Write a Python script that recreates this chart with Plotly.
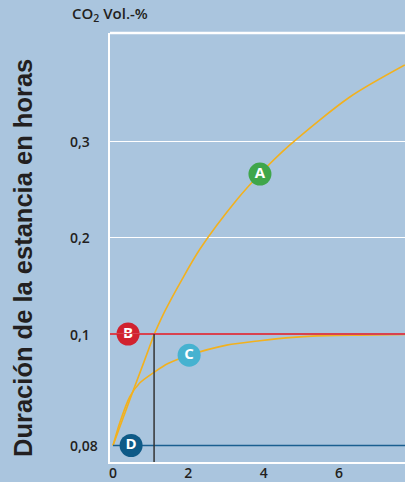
import plotly.graph_objects as go

# ---- datos ----
# curva A (sube hasta ~0,38)
a_x = [0, 0.265, 0.544, 0.822, 1.095, 1.379, 1.822, 2.308, 3.281, 3.899, 4.695, 6.286, 7.745]
a_y = [0.08, 0.0849, 0.0900, 0.0950, 0.1, 0.1239, 0.1560, 0.1882, 0.2391, 0.2661, 0.2962, 0.3460, 0.3792]

# curva C (se acerca a 0,1)
c_x = [0, 0.186, 0.443, 0.708, 1.106, 1.459, 2.024, 3.016, 3.899, 4.775, 5.668, 6.552, 7.745]
c_y = [0.08, 0.0842, 0.0887, 0.0912, 0.0932, 0.0947, 0.0962, 0.0980, 0.0988, 0.0994, 0.0997, 0.0998, 0.0999]

nivel_b = 0.1      # línea roja
nivel_d = 0.08     # línea azul
x_corte = 1.09     # línea vertical

marcas = ["A", "B", "C", "D"]
marcas_x = [3.90, 0.40, 2.02, 0.48]
marcas_y = [0.266, 0.1, 0.0962, 0.08]
marcas_col = ["#3FA64A", "#D1222F", "#46B2D0", "#0E5A87"]

x_ticks = [0, 2, 4, 6]
x_ticktext = ["0", "2", "4", "6"]
y_ticks = [0.08, 0.1, 0.2, 0.3]
y_ticktext = ["0,08", "0,1", "0,2", "0,3"]

X_MIN, X_MAX = -0.08, 7.75
BG = "#AAC5DE"
NARANJA = "#F2B11E"
TXT = "#231F20"
FUENTE = "Open Sans"

# el eje Y está partido: tramo bajo 0,08-0,1 y tramo alto 0,1-0,41
def eje(v):
    return "y" if v <= 0.1 else "y2"

fig = go.Figure()

# curva A, repartida entre los dos tramos
a_lo = [(x, y) for x, y in zip(a_x, a_y) if y <= 0.1]
a_hi = [(x, y) for x, y in zip(a_x, a_y) if y >= 0.1]
for pts, ya in ((a_lo, "y"), (a_hi, "y2")):
    fig.add_trace(go.Scatter(
        x=[p[0] for p in pts], y=[p[1] for p in pts], yaxis=ya,
        mode="lines", line=dict(color=NARANJA, width=1.6, shape="spline", smoothing=0.8),
        hoverinfo="skip", showlegend=False))

fig.add_trace(go.Scatter(
    x=c_x, y=c_y, yaxis="y", mode="lines",
    line=dict(color=NARANJA, width=1.6, shape="spline", smoothing=0.8),
    hoverinfo="skip", showlegend=False))

# línea roja (dibujada en ambos tramos para que no quede recortada)
for ya in ("y", "y2"):
    fig.add_trace(go.Scatter(
        x=[X_MIN, X_MAX], y=[nivel_b, nivel_b], yaxis=ya, mode="lines",
        line=dict(color="#D8424F", width=2), hoverinfo="skip", showlegend=False))

# línea azul
fig.add_trace(go.Scatter(
    x=[0, X_MAX], y=[nivel_d, nivel_d], yaxis="y", mode="lines",
    line=dict(color="#1A5F90", width=1.6), hoverinfo="skip", showlegend=False))

# línea vertical
fig.add_trace(go.Scatter(
    x=[x_corte, x_corte], y=[0.07, nivel_b], yaxis="y", mode="lines",
    line=dict(color="#333333", width=1.5), hoverinfo="skip", showlegend=False))

# marcas con letra
for m, mx, my, mc in zip(marcas, marcas_x, marcas_y, marcas_col):
    fig.add_trace(go.Scatter(
        x=[mx], y=[my], yaxis=eje(my),
        mode="markers+text", text=[m], textposition="middle center",
        marker=dict(size=23, color=mc, line=dict(width=0)),
        textfont=dict(family=FUENTE, size=15, color="white", weight=700),
        cliponaxis=False, hoverinfo="skip", showlegend=False))

# etiquetas del eje Y (alineadas a la izquierda)
for v, t in zip(y_ticks, y_ticktext):
    fig.add_annotation(
        xref="paper", yref=eje(v), x=-0.142, y=v, text=t,
        showarrow=False, xanchor="left", yanchor="middle",
        font=dict(family=FUENTE, size=14, color=TXT, weight=600))

# título superior
fig.add_annotation(
    xref="paper", yref="paper", x=-0.137, y=1.0, yshift=6,
    text="CO<sub>2</sub> Vol.-%", showarrow=False,
    xanchor="left", yanchor="bottom",
    font=dict(family=FUENTE, size=15, color=TXT, weight=600))

# título vertical
fig.add_annotation(
    xref="paper", yref="paper", x=-0.295, y=0.4755,
    text="<b>Duración de la estancia en horas</b>", textangle=-90,
    showarrow=False, xanchor="center", yanchor="middle",
    font=dict(family="Liberation Sans, Arial, sans-serif", size=25.5, color=TXT))

# borde superior
fig.add_shape(type="line", xref="paper", yref="paper",
              x0=0, x1=1, y0=1, y1=1, line=dict(color="white", width=2.5))

split = 128 / 429

fig.update_layout(
    width=405, height=482,
    margin=dict(l=110, r=0, t=33, b=20),
    paper_bgcolor=BG, plot_bgcolor=BG,
    showlegend=False,
    xaxis=dict(range=[X_MIN, X_MAX], tickvals=x_ticks, ticktext=x_ticktext,
               showgrid=False, zeroline=False, showline=True,
               linecolor="white", linewidth=2, ticks="",
               tickfont=dict(family=FUENTE, size=14, color=TXT, weight=600),
               ticklabelstandoff=-3,
               anchor="y", fixedrange=True, automargin=False),
    yaxis=dict(domain=[0, split], range=[0.07704, 0.1],
               showgrid=False, zeroline=False, showticklabels=False,
               showline=True, linecolor="white", linewidth=1.5,
               anchor="x", fixedrange=True, automargin=False),
    yaxis2=dict(domain=[split, 1], range=[0.1, 0.4124],
                tickvals=[0.2, 0.3], showticklabels=False,
                showgrid=True, gridcolor="white", gridwidth=1.3,
                zeroline=False, showline=True, linecolor="white", linewidth=1.5,
                anchor="x", fixedrange=True, automargin=False),
)

# quitar el margen por defecto del <body> para que la figura empiece en (0,0)
fig.write_html("out.html", config={"displayModeBar": False},
               post_script="document.body.style.margin='0';")
